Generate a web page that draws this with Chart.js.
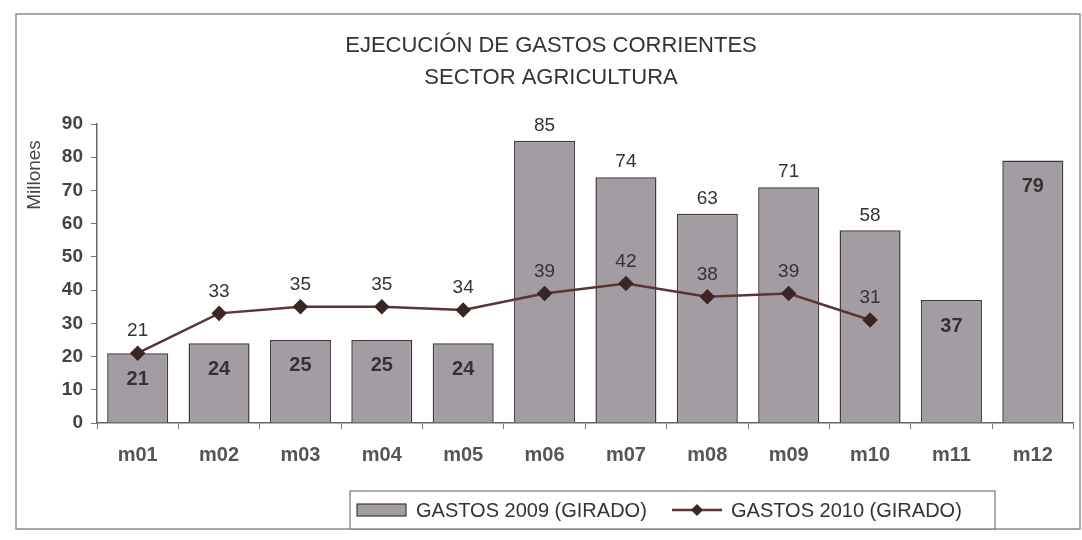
<!DOCTYPE html>
<html><head><meta charset="utf-8">
<script src="https://cdn.jsdelivr.net/npm/chart.js@4/dist/chart.umd.min.js"></script>
<style>html,body{margin:0;padding:0;background:#fff;overflow:hidden}#wrap{width:1082px;height:540px}</style>
</head><body><div id="wrap"><canvas id="c" width="1082" height="540"></canvas></div>
<script>
const categories = ['m01','m02','m03','m04','m05','m06','m07','m08','m09','m10','m11','m12'];
const gastos2009 = [21,24,25,25,24,85,74,63,71,58,37,79];
const gastos2010 = [21,33,35,35,34,39,42,38,39,31,null,null];
const yTickValues = [0,10,20,30,40,50,60,70,80,90];
const titleLines = ['EJECUCIÓN DE GASTOS CORRIENTES','SECTOR AGRICULTURA'];
const yAxisTitle = 'Millones';
const seriesNames = ['GASTOS 2009 (GIRADO)','GASTOS 2010 (GIRADO)'];

const F = '"Liberation Sans", Arial, sans-serif';
const BAR_FILL = '#a39da3';
const BAR_EDGE = '#3e3a3e';
const LINE_COL = '#5c3434';
const MARK_COL = '#3b2626';
const TEXT = '#333333';

const deco = {
  id: 'deco',
  beforeDraw(chart) {
    const ctx = chart.ctx;
    ctx.save();
    ctx.fillStyle = '#fff';
    ctx.fillRect(0, 0, chart.width, chart.height);
    ctx.strokeStyle = '#8c8c8c';
    ctx.lineWidth = 1.5;
    ctx.strokeRect(16, 14, 1064, 515);
    ctx.restore();
  },
  afterDatasetsDraw(chart) {
    const ctx = chart.ctx;
    const barMeta = chart.getDatasetMeta(0);
    const lineMeta = chart.getDatasetMeta(1);
    ctx.save();
    ctx.textAlign = 'center';
    ctx.textBaseline = 'middle';
    ctx.fillStyle = TEXT;
    gastos2009.forEach((v, i) => {
      const el = barMeta.data[i];
      const lv = gastos2010[i];
      const outside = lv != null && v - lv > 10;
      if (outside) {
        ctx.font = '19px ' + F;
        ctx.fillText(String(v), el.x, el.y - 15);
      } else {
        ctx.font = 'bold 20px ' + F;
        ctx.fillText(String(v), el.x, el.y + 26);
      }
    });
    gastos2010.forEach((v, i) => {
      if (v == null) return;
      const el = lineMeta.data[i];
      ctx.font = '19px ' + F;
      ctx.fillText(String(v), el.x, el.y - 22);
    });
    ctx.restore();
  },
  afterDraw(chart) {
    const ctx = chart.ctx;
    const ca = chart.chartArea;
    ctx.save();
    ctx.translate(35, ca.top + 51);
    ctx.rotate(-Math.PI / 2);
    ctx.textAlign = 'center';
    ctx.textBaseline = 'middle';
    ctx.fillStyle = '#444';
    ctx.font = '19px ' + F;
    ctx.fillText(yAxisTitle, 0, 0);
    ctx.restore();

    ctx.save();
    const lx = 350, ly = 491, lw = 645, lh = 38;
    ctx.fillStyle = '#fff';
    ctx.fillRect(lx, ly, lw, lh);
    ctx.strokeStyle = '#777';
    ctx.lineWidth = 1.2;
    ctx.strokeRect(lx, ly, lw, lh);
    const cy = ly + 19;
    ctx.fillStyle = BAR_FILL;
    ctx.fillRect(357, cy - 6, 49, 12);
    ctx.strokeStyle = BAR_EDGE;
    ctx.lineWidth = 1.2;
    ctx.strokeRect(357, cy - 6, 49, 12);
    ctx.fillStyle = TEXT;
    ctx.font = '20px ' + F;
    ctx.textAlign = 'left';
    ctx.textBaseline = 'middle';
    ctx.fillText(chart.data.datasets[0].label, 416, cy + 1);
    ctx.strokeStyle = LINE_COL;
    ctx.lineWidth = 2.5;
    ctx.beginPath();
    ctx.moveTo(672, cy); ctx.lineTo(722, cy); ctx.stroke();
    ctx.fillStyle = MARK_COL;
    ctx.beginPath();
    ctx.moveTo(697, cy - 6); ctx.lineTo(703, cy); ctx.lineTo(697, cy + 6); ctx.lineTo(691, cy);
    ctx.closePath(); ctx.fill();
    ctx.fillStyle = TEXT;
    ctx.fillText(chart.data.datasets[1].label, 731, cy + 1);
    ctx.restore();
  }
};

new Chart(document.getElementById('c'), {
  type: 'bar',
  data: {
    labels: categories,
    datasets: [
      {
        type: 'bar',
        label: seriesNames[0],
        data: gastos2009,
        backgroundColor: BAR_FILL,
        borderColor: BAR_EDGE,
        borderWidth: 1.5,
        barPercentage: 0.75,
        categoryPercentage: 1.0,
        order: 2
      },
      {
        type: 'line',
        label: seriesNames[1],
        data: gastos2010,
        borderColor: LINE_COL,
        borderWidth: 2.5,
        pointStyle: 'rectRot',
        pointRadius: 6,
        pointBackgroundColor: MARK_COL,
        pointBorderColor: MARK_COL,
        tension: 0,
        order: 1
      }
    ]
  },
  options: {
    responsive: false,
    animation: false,
    devicePixelRatio: 1,
    layout: { padding: { top: 14, left: 20, right: 0, bottom: 67 } },
    plugins: {
      legend: { display: false },
      tooltip: { enabled: false },
      title: {
        display: true,
        text: titleLines,
        color: TEXT,
        font: { family: F, size: 22, weight: 'normal', lineHeight: 1.455 },
        padding: { top: 16, bottom: 30 }
      }
    },
    scales: {
      x: {
        grid: { display: true, drawOnChartArea: false, tickLength: 6, color: '#777', offset: true },
        border: { display: true, color: '#666', width: 1.5 },
        ticks: { color: '#555', font: { family: F, size: 20, weight: 'bold' }, padding: 14 },
        afterFit(s) { s.height = 50; }
      },
      y: {
        min: 0, max: 90,
        afterBuildTicks(s) { s.ticks = yTickValues.map(v => ({ value: v })); },
        grid: { display: true, drawOnChartArea: false, tickLength: 6, color: '#777' },
        border: { display: true, color: '#666', width: 1.5 },
        ticks: { color: '#444', font: { family: F, size: 19, weight: 'bold' }, padding: 8 },
        afterFit(s) { s.width = 77; }
      }
    }
  },
  plugins: [deco]
});
</script>
</body></html>
